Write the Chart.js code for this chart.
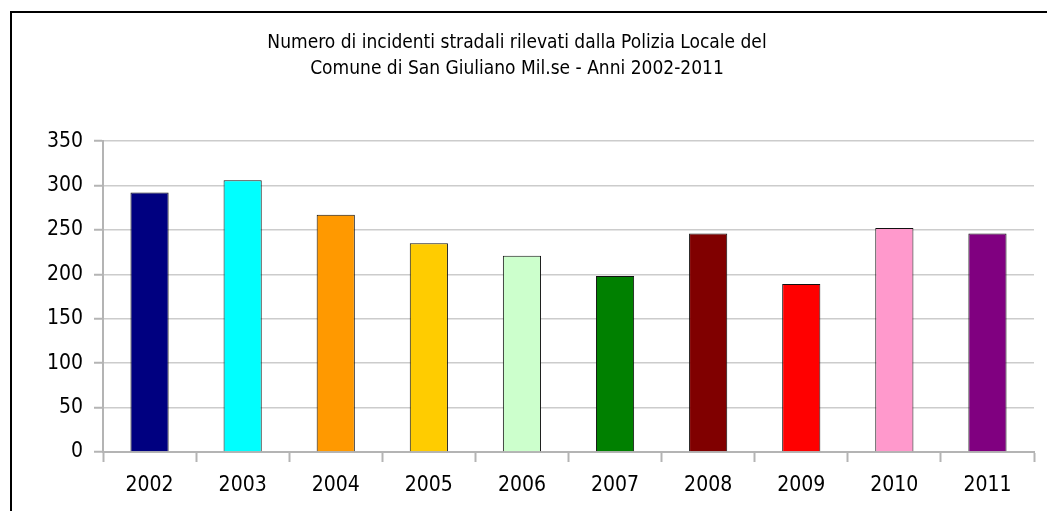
<!DOCTYPE html>
<html>
<head>
<meta charset="utf-8">
<script src="https://cdn.jsdelivr.net/npm/chart.js@4/dist/chart.umd.min.js"></script>
<style>
  html, body { margin: 0; padding: 0; background: #fff; }
  #frame { position: absolute; left: 10px; top: 11px; width: 1040px; height: 510px;
           border-left: 2px solid #000; border-top: 2px solid #000; }
  #wrap { position: absolute; left: 0; top: 0; width: 1047px; height: 511px; }
</style>
</head>
<body>
<div id="frame"></div>
<div id="wrap"><canvas id="incidenti"></canvas></div>
<script>
// dati: incidenti stradali rilevati per anno
var years = ['2002', '2003', '2004', '2005', '2006', '2007', '2008', '2009', '2010', '2011'];
var incidents = [292, 306, 267, 235, 221, 198, 246, 189, 252, 246];
var yTicks = [0, 50, 100, 150, 200, 250, 300, 350];
var titleLines = ['Numero di incidenti stradali rilevati dalla Polizia Locale del',
                  'Comune di San Giuliano Mil.se - Anni 2002-2011'];

var barColors = ['#000080', '#00ffff', '#ff9900', '#ffcc00', '#ccffcc',
                 '#008000', '#800000', '#ff0000', '#ff99cc', '#800080'];

var font = "'DejaVu Sans Condensed', 'DejaVu Sans', sans-serif";

var ctx = document.getElementById('incidenti').getContext('2d');
var myChart = new Chart(ctx, {
  type: 'bar',
  data: {
    labels: years,
    datasets: [{
      label: 'Incidenti',
      data: incidents,
      backgroundColor: barColors,
      borderColor: '#111',
      borderWidth: 1,
      barPercentage: 0.41,
      categoryPercentage: 1
    }]
  },
  options: {
    responsive: true,
    maintainAspectRatio: false,
    animation: false,
    layout: { padding: { left: 0, right: 13, top: 0, bottom: 0 } },
    plugins: {
      legend: { display: false },
      tooltip: { enabled: false },
      title: {
        display: true,
        text: titleLines,
        color: '#000',
        font: { family: font, size: 19, weight: 'normal', lineHeight: 1.37 },
        padding: { top: 30, bottom: 59 }
      }
    },
    scales: {
      x: {
        offset: true,
        grid: {
          offset: true,
          color: function (c) { return c.index === years.length ? '#c0c0c0' : 'transparent'; },
          tickColor: '#b4b4b4',
          tickLength: 10,
          tickWidth: 2
        },
        border: { color: '#b4b4b4', width: 2 },
        ticks: { color: '#000', padding: 11, font: { family: font, size: 21 } },
        afterFit: function (s) { s.height = 59; }
      },
      y: {
        min: 0,
        max: 350,
        afterBuildTicks: function (s) { s.ticks = yTicks.map(function (v) { return { value: v }; }); },
        grid: {
          color: '#cccccc',
          lineWidth: 1.5,
          tickColor: '#b4b4b4',
          tickLength: 9,
          tickWidth: 2
        },
        border: { color: '#b4b4b4', width: 2 },
        ticks: { color: '#000', padding: 11, font: { family: font, size: 21 } },
        afterFit: function (s) { s.width = 103; }
      }
    }
  }
});
</script>
</body>
</html>
